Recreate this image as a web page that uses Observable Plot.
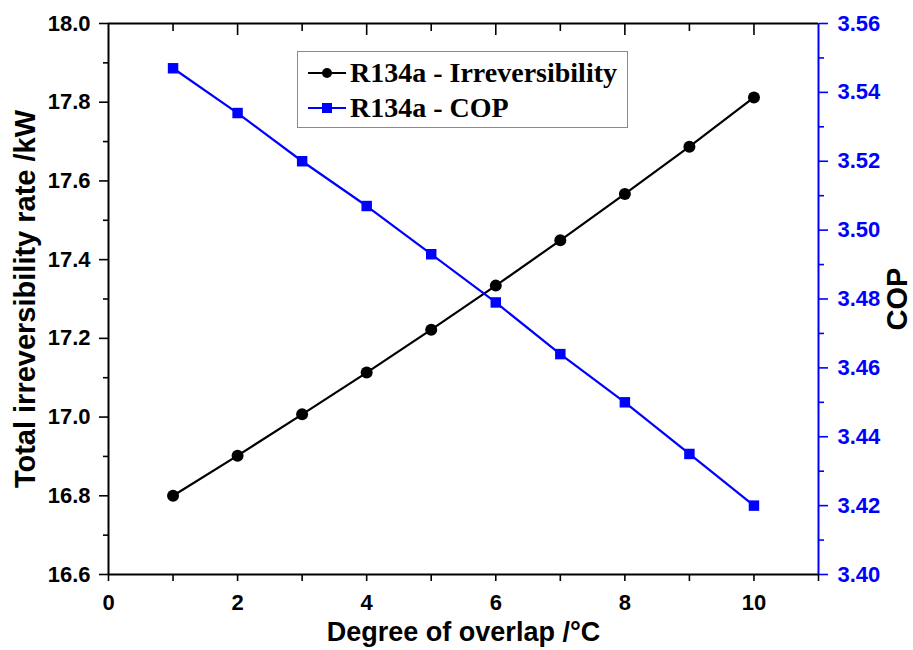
<!DOCTYPE html>
<html>
<head>
<meta charset="utf-8">
<script src="https://cdn.jsdelivr.net/npm/d3@7"></script>
<script src="https://cdn.jsdelivr.net/npm/@observablehq/plot@0.6"></script>
<style>
  html, body { margin: 0; padding: 0; background: #fff; }
  #wrap { position: relative; width: 913px; height: 650px; }
  #chart svg text { font-weight: bold; }
  #legend {
    position: absolute; left: 297px; top: 51px; width: 329px; height: 75px;
    border: 1.5px solid #8a8a8a; background: #fff; box-sizing: content-box;
    font-family: "Liberation Serif", "Times New Roman", serif; font-weight: bold; font-size: 28px;
  }
  #legend .row { position: absolute; left: 0; height: 34px; display: flex; align-items: center; }
  #legend svg { margin-left: 10px; margin-right: 4px; }
</style>
</head>
<body>
<div id="wrap">
  <div id="chart"></div>
  <div id="legend"></div>
</div>
<script>
// Degree of overlap (°C)
const overlap = [1, 2, 3, 4, 5, 6, 7, 8, 9, 10];
// Total irreversibility rate (kW)
const irreversibility = [16.800, 16.902, 17.007, 17.113, 17.222, 17.334, 17.449, 17.567, 17.687, 17.812];
// Coefficient of performance
const cop = [3.547, 3.534, 3.520, 3.507, 3.493, 3.479, 3.464, 3.450, 3.435, 3.420];

const seriesNames = ["R134a - Irreversibility", "R134a - COP"];
const seriesColors = ["#000000", "#0000ff"];

// Axis ticks
const xMajor = [0, 2, 4, 6, 8, 10];
const xMinor = [1, 3, 5, 7, 9, 11];
const leftMajor = [16.6, 16.8, 17.0, 17.2, 17.4, 17.6, 17.8, 18.0];
const leftMinor = [16.7, 16.9, 17.1, 17.3, 17.5, 17.7, 17.9];
const copMajor = [3.40, 3.42, 3.44, 3.46, 3.48, 3.50, 3.52, 3.54, 3.56];
const copMinor = [3.41, 3.43, 3.45, 3.47, 3.49, 3.51, 3.53, 3.55];

const xDomain = [xMajor[0], xMinor[xMinor.length - 1]];
const yDomain = [leftMajor[0], leftMajor[leftMajor.length - 1]];
const copDomain = [copMajor[0], copMajor[copMajor.length - 1]];

// COP shares the left scale through a linear mapping of its own range
const copToY = d3.scaleLinear().domain(copDomain).range(yDomain);

const rows = overlap.map((x, i) => ({x, irr: irreversibility[i], cop: copToY(cop[i])}));

const BLUE = seriesColors[1];
const tickFont = {fontSize: 22, fontWeight: "bold"};
const bare = {tickFormat: () => "", label: null, strokeWidth: 1.6};
const titleFont = {fontWeight: "bold", fill: "#000", textAnchor: "middle", lineAnchor: "middle"};

const chart = Plot.plot({
  width: 913,
  height: 650,
  marginTop: 23,
  marginLeft: 108,
  marginRight: 95,
  marginBottom: 76,
  style: {fontFamily: "'Liberation Sans', Arial, sans-serif", fontWeight: "bold", background: "#fff"},
  x: {domain: xDomain},
  y: {domain: yDomain},
  marks: [
    // bottom axis
    Plot.axisX(xMajor, {anchor: "bottom", tickSize: 7, tickPadding: 13, strokeWidth: 1.6, label: null, ...tickFont}),
    Plot.axisX(xMinor, {anchor: "bottom", tickSize: 7, ...bare}),
    // top mirror ticks pointing inward
    Plot.axisX(xMajor.slice(1), {anchor: "top", tickSize: -11, ...bare}),
    Plot.axisX(xMinor.slice(0, -1), {anchor: "top", tickSize: -7, ...bare}),
    // left axis
    Plot.axisY(leftMajor, {anchor: "left", tickSize: 9, tickPadding: 9, tickFormat: d => d.toFixed(1), strokeWidth: 1.6, label: null, ...tickFont}),
    Plot.axisY(leftMinor, {anchor: "left", tickSize: 5, ...bare}),
    // right axis (COP)
    Plot.axisY(copMajor.map(copToY), {anchor: "right", tickSize: 9, tickPadding: 10, color: BLUE, strokeWidth: 1.6, label: null,
      tickFormat: d => copToY.invert(d).toFixed(2), ...tickFont}),
    Plot.axisY(copMinor.map(copToY), {anchor: "right", tickSize: 5, color: BLUE, ...bare}),
    // frame
    Plot.ruleY([yDomain[0], yDomain[1]], {stroke: "#000", strokeWidth: 2}),
    Plot.ruleX([xDomain[0]], {stroke: "#000", strokeWidth: 2}),
    Plot.ruleX([xDomain[1]], {stroke: BLUE, strokeWidth: 2}),
    // axis titles
    Plot.text(["Degree of overlap /°C"], {text: d => d, frameAnchor: "bottom", dy: 58, fontSize: 27, ...titleFont}),
    Plot.text(["Total irreversibility rate /kW"], {text: d => d, frameAnchor: "left", rotate: -90, dx: -83, fontSize: 29, ...titleFont}),
    Plot.text(["COP"], {text: d => d, frameAnchor: "right", rotate: -90, dx: 79, fontSize: 29, ...titleFont}),
    // series
    Plot.line(rows, {x: "x", y: "irr", stroke: seriesColors[0], strokeWidth: 2.2}),
    Plot.dot(rows, {x: "x", y: "irr", r: 6, fill: seriesColors[0], stroke: "none"}),
    Plot.line(rows, {x: "x", y: "cop", stroke: BLUE, strokeWidth: 2.2}),
    Plot.dot(rows, {x: "x", y: "cop", r: 5.9, symbol: "square", fill: BLUE, stroke: "none"})
  ]
});
document.getElementById("chart").appendChild(chart);

// legend
const legend = document.getElementById("legend");
const swatchShapes = [
  '<circle cx="19" cy="10" r="5" fill="#000"/>',
  '<rect x="14" y="5" width="10" height="10" fill="#0000ff"/>'
];
seriesNames.forEach((name, i) => {
  const row = document.createElement("div");
  row.className = "row";
  row.style.top = (i === 0 ? 4 : 39) + "px";
  row.innerHTML =
    `<svg width="38" height="20"><line x1="0" x2="38" y1="10" y2="10" stroke="${seriesColors[i]}" stroke-width="2.2"/>${swatchShapes[i]}</svg>` +
    `<span>${name}</span>`;
  legend.appendChild(row);
});
</script>
</body>
</html>
